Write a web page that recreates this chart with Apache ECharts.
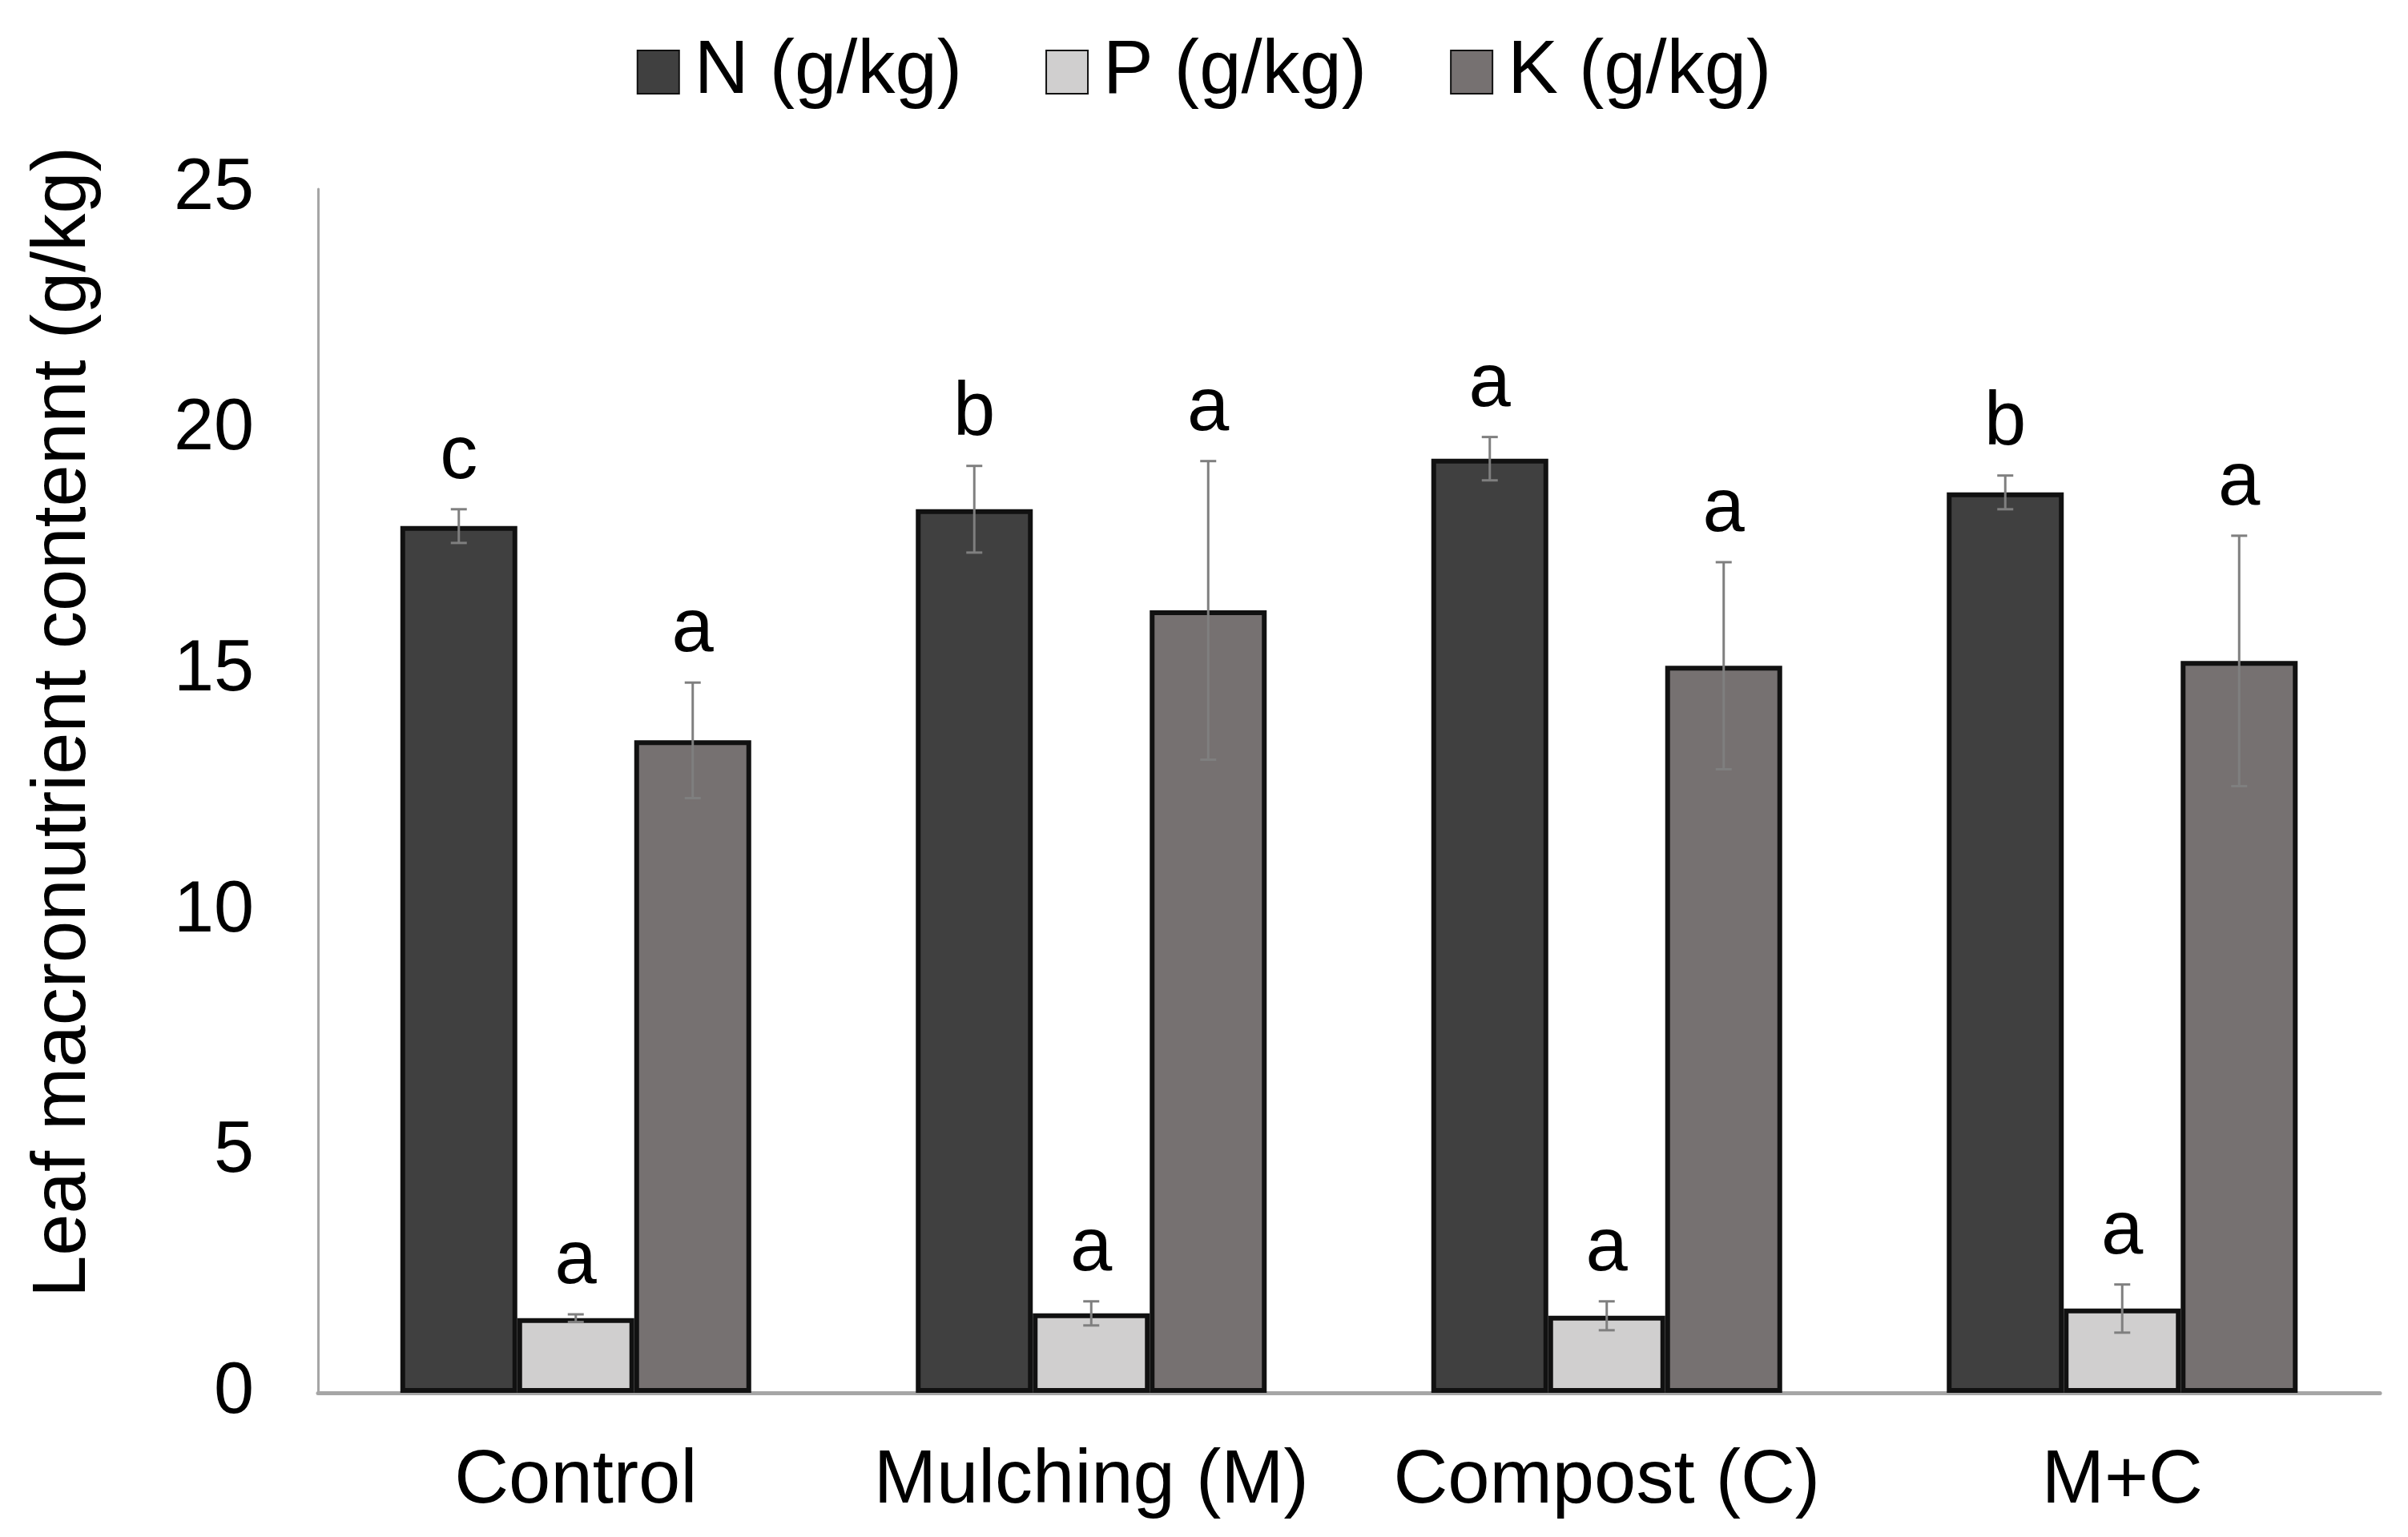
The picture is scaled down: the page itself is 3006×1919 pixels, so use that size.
<!DOCTYPE html>
<html>
<head>
<meta charset="utf-8" />
<title>Leaf macronutrient content</title>
<script src="https://cdn.jsdelivr.net/npm/echarts@6/dist/echarts.min.js"></script>
<style>
	html, body { margin: 0; padding: 0; background: #fff; }
	#main { width: 3006px; height: 1919px; }
</style>
</head>
<body>
<div id="main"></div>
<script type="text/javascript">
	// data
	var categories = ['Control', 'Mulching (M)', 'Compost (C)', 'M+C'];
	var seriesNames = ['N (g/kg)', 'P (g/kg)', 'K (g/kg)'];
	var nValues = [18.0, 18.35, 19.4, 18.7];
	var nErrors = [0.35, 0.9, 0.45, 0.35];
	var nLetters = ['c', 'b', 'a', 'b'];
	var pValues = [1.55, 1.65, 1.6, 1.75];
	var pErrors = [0.08, 0.25, 0.3, 0.5];
	var pLetters = ['a', 'a', 'a', 'a'];
	var kValues = [13.55, 16.25, 15.1, 15.2];
	var kErrors = [1.2, 3.1, 2.15, 2.6];
	var kLetters = ['a', 'a', 'a', 'a'];
	var yTicks = [0, 5, 10, 15, 20, 25];

	var barColors = ['#404040', '#d0cfcf', '#767171'];
	var barWidth = 146;
	var fontFamily = '"Liberation Sans", Arial, sans-serif';

	var myChart = echarts.init(document.getElementById('main'));

	function barSeries(idx, values) {
		return {
			name: seriesNames[idx],
			type: 'bar',
			barWidth: barWidth,
			barGap: '0%',
			itemStyle: {
				color: barColors[idx],
				borderColor: '#111111',
				borderWidth: 6
			},
			data: values
		};
	}

	// error bar + significance letter, drawn on top of each bar
	function errorSeries(idx, values, errors, letters) {
		var rows = [];
		for (var i = 0; i < values.length; i++) {
			rows.push([i, values[i], errors[i], letters[i]]);
		}
		return {
			type: 'custom',
			name: 'err' + idx,
			z: 5,
			renderItem: function(params, api) {
				var c = api.value(0);
				var v = api.value(1);
				var e = api.value(2);
				var hi = api.coord([c, v + e]);
				var lo = api.coord([c, v - e]);
				var x = hi[0] + (idx - 1) * barWidth;
				var cap = 10;
				var st = { stroke: '#7f7f7f', lineWidth: 3 };
				return {
					type: 'group',
					children: [
						{ type: 'line', shape: { x1: x, y1: hi[1], x2: x, y2: lo[1] }, style: st },
						{ type: 'line', shape: { x1: x - cap, y1: hi[1], x2: x + cap, y2: hi[1] }, style: st },
						{ type: 'line', shape: { x1: x - cap, y1: lo[1], x2: x + cap, y2: lo[1] }, style: st },
						{
							type: 'text',
							x: x,
							y: hi[1] - 18,
							style: {
								text: letters[c],
								fill: '#000',
								font: '94px ' + fontFamily,
								align: 'center',
								verticalAlign: 'bottom'
							}
						}
					]
				};
			},
			data: rows
		};
	}

	var option = {
		backgroundColor: '#fff',
		animation: false,
		textStyle: { fontFamily: fontFamily },
		legend: {
			top: 38,
			left: 'center',
			icon: 'rect',
			itemWidth: 52,
			itemHeight: 54,
			itemGap: 104,
			data: seriesNames,
			textStyle: {
				fontSize: 94,
				color: '#000',
				fontFamily: fontFamily,
				padding: [0, 0, 0, 14]
			}
		},
		grid: {
			left: 397,
			right: 35,
			top: 236,
			bottom: 180
		},
		xAxis: {
			type: 'category',
			data: categories,
			axisLine: { show: true, lineStyle: { color: '#a6a6a6', width: 5 } },
			axisTick: { show: false },
			axisLabel: {
				interval: 0,
				fontSize: 94,
				color: '#000',
				margin: 64,
				fontFamily: fontFamily
			}
		},
		yAxis: {
			type: 'value',
			min: yTicks[0],
			max: yTicks[yTicks.length - 1],
			interval: 5,
			name: 'Leaf macronutrient contennt (g/kg)',
			nameLocation: 'middle',
			nameGap: 270,
			nameTextStyle: {
				fontSize: 94,
				color: '#000',
				fontFamily: fontFamily,
				padding: [0, 0, 0, 172]
			},
			axisLine: { show: true, lineStyle: { color: '#a6a6a6', width: 3 } },
			axisTick: { show: false },
			splitLine: { show: false },
			axisLabel: {
				fontSize: 90,
				color: '#000',
				margin: 80,
				fontFamily: fontFamily
			}
		},
		series: [
			barSeries(0, nValues),
			barSeries(1, pValues),
			barSeries(2, kValues),
			errorSeries(0, nValues, nErrors, nLetters),
			errorSeries(1, pValues, pErrors, pLetters),
			errorSeries(2, kValues, kErrors, kLetters)
		]
	};

	myChart.setOption(option);
	window.onresize = myChart.resize;
</script>
</body>
</html>
